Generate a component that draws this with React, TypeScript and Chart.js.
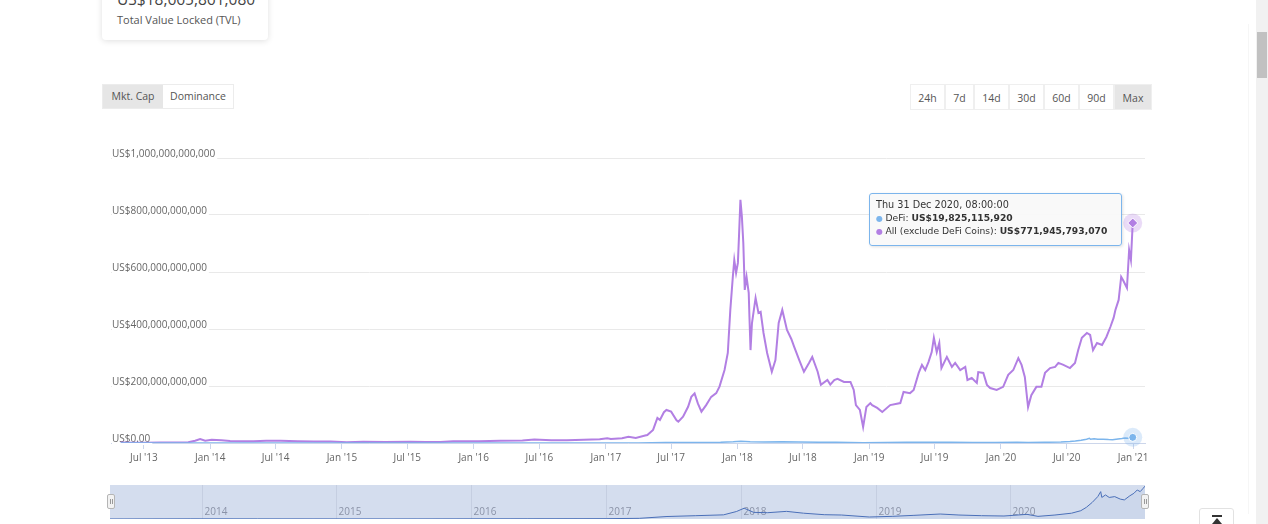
import React, { useEffect, useRef } from "react";
import { Chart, registerables } from "chart.js";

Chart.register(...registerables);

// ---------- DATA (values in billions of US$) ----------
const allDates = [
  "2013-04-28","2013-06-01","2013-07-05","2013-08-15","2013-10-01","2013-11-01","2013-11-20","2013-12-04","2013-12-18",
  "2014-01-05","2014-02-01","2014-02-25","2014-04-01","2014-05-01","2014-06-05","2014-07-15","2014-09-01","2014-10-15","2014-12-01",
  "2015-01-14","2015-03-01","2015-05-01","2015-07-10","2015-08-20","2015-10-01","2015-11-05","2015-12-15",
  "2016-01-15","2016-03-15","2016-05-15","2016-06-17","2016-08-03","2016-09-15","2016-11-01","2016-12-15",
  "2017-01-05","2017-01-15","2017-02-15","2017-03-05","2017-03-25","2017-04-20","2017-04-26","2017-05-12","2017-05-24","2017-05-31",
  "2017-06-11","2017-06-18","2017-07-01","2017-07-16","2017-07-21","2017-08-03","2017-08-17","2017-08-26","2017-09-04","2017-09-13",
  "2017-09-23","2017-10-06","2017-10-20","2017-11-03","2017-11-12","2017-11-26","2017-12-05","2017-12-12","2017-12-19","2017-12-23","2017-12-28",
  "2018-01-02","2018-01-05","2018-01-09","2018-01-13","2018-01-17","2018-01-21","2018-01-26","2018-02-01","2018-02-03","2018-02-06",
  "2018-02-10","2018-02-20","2018-02-28","2018-03-06","2018-03-14","2018-03-24","2018-04-06","2018-04-16","2018-04-25","2018-05-05",
  "2018-05-18","2018-05-30","2018-06-07","2018-06-21","2018-07-04","2018-07-18","2018-07-27","2018-08-11","2018-08-20","2018-09-07",
  "2018-09-15","2018-09-26","2018-10-05","2018-10-23","2018-11-10","2018-11-19","2018-11-25","2018-12-06","2018-12-15","2018-12-24",
  "2019-01-04","2019-01-09","2019-01-23","2019-02-06","2019-02-28","2019-03-28","2019-04-06","2019-04-24","2019-05-04","2019-05-18",
  "2019-05-27","2019-06-05","2019-06-14","2019-06-23","2019-06-29","2019-07-07","2019-07-14","2019-07-20","2019-08-04","2019-08-18",
  "2019-08-27","2019-09-10","2019-09-24","2019-09-30","2019-10-12","2019-10-26","2019-10-30","2019-11-13","2019-11-23","2019-12-02","2019-12-20",
  "2020-01-07","2020-01-21","2020-02-04","2020-02-18","2020-02-27","2020-03-07","2020-03-16","2020-03-25","2020-04-08","2020-04-22",
  "2020-05-02","2020-05-16","2020-05-30","2020-06-08","2020-06-22","2020-07-10","2020-07-24","2020-08-02","2020-08-12","2020-08-26",
  "2020-09-04","2020-09-12","2020-09-23","2020-10-07","2020-10-19","2020-10-30","2020-11-08","2020-11-13","2020-11-22","2020-11-29",
  "2020-12-04","2020-12-15","2020-12-21","2020-12-26","2020-12-31"
];
const allValues = [
  1.5,1.3,1.0,1.4,1.7,2.8,8,14,8,
  11,10,7,6,6,8,8,6.5,5,5,
  3,4,3.5,4.5,3.5,3.5,6,6.5,
  6.5,7.5,8.5,12,9.5,10,11,13,
  17,14,17,22,18,26,28,46,88,81,
  108,116,110,80,75,92,127,162,174,139,
  110,133,162,175,198,256,316,467,584,642,597,
  632,724,853,795,702,537,583,527,442,326,
  421,509,456,460,386,316,250,291,421,467,
  397,365,337,291,250,281,302,250,204,221,
  205,221,225,214,214,186,133,116,56,126,
  140,133,123,109,133,140,179,175,186,246,
  274,256,284,319,369,319,351,263,302,267,
  281,256,267,221,228,211,249,246,204,193,186,
  197,239,256,298,274,232,126,168,197,197,
  246,263,267,281,274,263,281,326,369,386,
  379,326,351,344,372,407,439,467,502,583,
  572,544,677,642,771.94579307
];

const defiDates = [
  "2013-04-28","2013-12-01","2014-06-01","2015-06-01","2016-06-01","2017-01-01","2017-04-01","2017-06-15","2017-09-01","2017-11-15",
  "2017-12-20","2018-01-10","2018-02-05","2018-03-15","2018-05-05","2018-06-20","2018-08-15","2018-10-01","2018-12-15","2019-02-15",
  "2019-04-15","2019-06-25","2019-08-15","2019-10-15","2019-12-15","2020-02-15","2020-03-16","2020-05-01","2020-06-15","2020-07-10",
  "2020-07-25","2020-08-10","2020-08-25","2020-09-02","2020-09-05","2020-09-15","2020-09-25","2020-10-10","2020-10-25","2020-11-05",
  "2020-11-20","2020-12-01","2020-12-10","2020-12-18","2020-12-26","2020-12-31"
];
const defiValues = [
  0.02,0.1,0.08,0.05,0.15,0.2,0.4,1.5,2.0,2.5,
  4.5,6.5,4.0,3.8,4.6,3.5,2.6,2.4,1.2,1.6,
  2.2,3.0,2.4,2.0,1.8,2.8,1.6,2.4,3.5,5.0,
  7.0,10.0,13.5,16.5,13.0,14.5,13.0,13.5,12.0,11.5,
  14.0,15.5,17.5,16.5,18.5,19.82511592
];

const xTickDates = [
  "2013-07-01","2014-01-01","2014-07-01","2015-01-01","2015-07-01","2016-01-01","2016-07-01","2017-01-01",
  "2017-07-01","2018-01-01","2018-07-01","2019-01-01","2019-07-01","2020-01-01","2020-07-01","2021-01-01"
];
const xTickLabels = [
  "Jul '13","Jan '14","Jul '14","Jan '15","Jul '15","Jan '16","Jul '16","Jan '17",
  "Jul '17","Jan '18","Jul '18","Jan '19","Jul '19","Jan '20","Jul '20","Jan '21"
];
const yTickValues = [0, 200, 400, 600, 800, 1000];
const yTickLabels = [
  "US$0.00","US$200,000,000,000","US$400,000,000,000","US$600,000,000,000","US$800,000,000,000","US$1,000,000,000,000"
];
const navYearDates = ["2014-01-01","2015-01-01","2016-01-01","2017-01-01","2018-01-01","2019-01-01","2020-01-01"];
const navYearLabels = ["2014","2015","2016","2017","2018","2019","2020"];

const viewButtons = ["Mkt. Cap", "Dominance"];
const rangeButtons = ["24h", "7d", "14d", "30d", "60d", "90d", "Max"];
const rangeWidths = [35, 29, 35, 35, 35, 35, 38];

const tvlText = "US$18,665,861,080";
const tooltipHeader = "Thu 31 Dec 2020, 08:00:00";
const seriesNames = ["DeFi", "All (exclude DeFi Coins)"];

// ---------- helpers ----------
const ms = (s: string) => {
  const [y, m, d] = s.split("-").map(Number);
  return Date.UTC(y, m - 1, d);
};
const fmtUSD = (b: number) => "US$" + Math.round(b * 1e9).toLocaleString("en-US");

const BLUE = "#7cb5ec";
const PURPLE = "#b27fe3";
const FONT = "'Open Sans', 'Noto Sans', sans-serif";

const haloPlugin = {
  id: "halo",
  beforeDatasetsDraw(chart: any) {
    const ctx = chart.ctx;
    const colors = ["rgba(124,181,236,0.28)", "rgba(178,127,227,0.28)"];
    chart.data.datasets.forEach((ds: any, i: number) => {
      const meta = chart.getDatasetMeta(i);
      const pt = meta.data[meta.data.length - 1];
      if (!pt) return;
      ctx.save();
      ctx.fillStyle = colors[i];
      ctx.beginPath();
      ctx.arc(pt.x, pt.y, 9.5, 0, Math.PI * 2);
      ctx.fill();
      ctx.restore();
    });
  },
};

const navPlugin = {
  id: "navDecor",
  beforeDatasetsDraw(chart: any) {
    const { ctx, chartArea } = chart;
    const xs = chart.scales.x;
    ctx.save();
    ctx.fillStyle = "rgba(102,133,194,0.28)";
    ctx.fillRect(chartArea.left, chartArea.top, chartArea.right - chartArea.left, chartArea.bottom - chartArea.top);
    ctx.strokeStyle = "rgba(60,70,110,0.10)";
    ctx.lineWidth = 1;
    ctx.fillStyle = "#8b93a8";
    ctx.font = `10px ${FONT}`;
    ctx.textBaseline = "middle";
    ctx.textAlign = "left";
    navYearDates.forEach((d, i) => {
      const x = Math.round(xs.getPixelForValue(ms(d))) + 0.5;
      ctx.beginPath();
      ctx.moveTo(x, chartArea.top);
      ctx.lineTo(x, chartArea.bottom);
      ctx.stroke();
      ctx.fillText(navYearLabels[i], x + 2, chartArea.bottom - 7);
    });
    ctx.restore();
  },
};

function MainChart() {
  const ref = useRef<HTMLCanvasElement>(null);
  useEffect(() => {
    if (!ref.current) return;
    const lastA = allValues.length - 1;
    const lastD = defiValues.length - 1;
    const chart = new Chart(ref.current, {
      type: "line",
      data: {
        datasets: [
          {
            label: seriesNames[0],
            data: defiDates.map((d, i) => ({ x: ms(d), y: defiValues[i] })),
            borderColor: BLUE,
            backgroundColor: BLUE,
            borderWidth: 1.5,
            pointRadius: (c: any) => (c.dataIndex === lastD ? 4 : 0),
            pointBackgroundColor: BLUE,
            pointBorderColor: "#ffffff",
            pointBorderWidth: 1,
            tension: 0,
          },
          {
            label: seriesNames[1],
            data: allDates.map((d, i) => ({ x: ms(d), y: allValues[i] })),
            borderColor: PURPLE,
            backgroundColor: PURPLE,
            borderWidth: 2,
            pointStyle: "rectRot",
            pointRadius: (c: any) => (c.dataIndex === lastA ? 5 : 0),
            pointBackgroundColor: PURPLE,
            pointBorderColor: "#ffffff",
            pointBorderWidth: 1,
            tension: 0,
          },
        ],
      },
      options: {
        animation: false,
        responsive: false,
        maintainAspectRatio: false,
        events: [],
        layout: { padding: { left: 9, right: 25, top: 16, bottom: 5 } },
        plugins: { legend: { display: false }, tooltip: { enabled: false } },
        scales: {
          x: {
            type: "linear",
            min: ms("2013-04-01"),
            max: ms("2021-02-03"),
            afterBuildTicks: (s: any) => {
              s.ticks = xTickDates.map((d) => ({ value: ms(d) }));
            },
            ticks: {
              callback: (_v: any, i: number) => xTickLabels[i],
              autoSkip: false,
              maxRotation: 0,
              color: "#666666",
              font: { family: FONT, size: 10 },
              padding: 3,
            },
            grid: { drawOnChartArea: false, drawTicks: true, tickLength: 6, color: "#ccd6eb" },
            border: { display: true, color: "#ccd6eb" },
          },
          y: {
            min: 0,
            max: 1000,
            afterBuildTicks: (s: any) => {
              s.ticks = yTickValues.map((v) => ({ value: v }));
            },
            ticks: {
              mirror: true,
              padding: 1,
              labelOffset: -4,
              callback: (_v: any, i: number) => yTickLabels[i],
              color: "#666666",
              font: { family: FONT, size: 10 },
              showLabelBackdrop: true,
              backdropColor: "#ffffff",
              backdropPadding: { left: 0, right: 2, top: 0, bottom: 0 },
            },
            grid: { color: "#e9e9e9", drawTicks: false },
            border: { display: false },
          },
        },
      },
      plugins: [haloPlugin],
    } as any);
    return () => chart.destroy();
  }, []);
  return (
    <canvas
      ref={ref}
      width={1070}
      height={330}
      style={{ position: "absolute", left: 100, top: 142, width: 1070, height: 330 }}
    />
  );
}

function NavChart() {
  const ref = useRef<HTMLCanvasElement>(null);
  useEffect(() => {
    if (!ref.current) return;
    const chart = new Chart(ref.current, {
      type: "line",
      data: {
        datasets: [
          {
            data: defiDates.map((d, i) => ({ x: ms(d), y: defiValues[i] })),
            borderColor: "#4a6fb8",
            backgroundColor: "rgba(51,92,173,0.05)",
            borderWidth: 1,
            fill: "origin",
            pointRadius: 0,
            tension: 0,
          },
        ],
      },
      options: {
        animation: false,
        responsive: false,
        maintainAspectRatio: false,
        events: [],
        layout: { padding: 0 },
        plugins: { legend: { display: false }, tooltip: { enabled: false } },
        scales: {
          x: { type: "linear", display: false, min: ms(allDates[0]), max: ms(allDates[allDates.length - 1]) },
          y: { display: false, min: 0, max: 20.5 },
        },
      },
      plugins: [navPlugin],
    } as any);
    return () => chart.destroy();
  }, []);
  return (
    <canvas
      ref={ref}
      width={1035}
      height={34}
      style={{ position: "absolute", left: 110, top: 485, width: 1035, height: 34 }}
    />
  );
}

function Handle({ left }: { left: number }) {
  return (
    <div
      style={{
        position: "absolute",
        left,
        top: 494,
        width: 6,
        height: 13,
        background: "#f2f2f2",
        border: "1px solid #b5b5b5",
        borderRadius: 2,
        boxSizing: "content-box",
      }}
    >
      <div style={{ position: "absolute", left: 2, top: 4, width: 1, height: 5, background: "#999" }} />
      <div style={{ position: "absolute", left: 4, top: 4, width: 1, height: 5, background: "#999" }} />
    </div>
  );
}

export default function App() {
  const lastDefi = defiValues[defiValues.length - 1];
  const lastAll = allValues[allValues.length - 1];
  let rx = 910;
  return (
    <div
      style={{
        position: "fixed",
        left: 0,
        top: 0,
        width: 1268,
        height: 524,
        overflow: "hidden",
        background: "#ffffff",
        fontFamily: FONT,
      }}
    >
      {/* TVL card */}
      <div
        style={{
          position: "absolute",
          left: 102,
          top: -14,
          width: 166,
          height: 54,
          background: "#fff",
          borderRadius: 4,
          boxShadow: "0 1px 6px rgba(0,0,0,0.13)",
        }}
      >
        <div style={{ position: "absolute", left: 15, top: 3, fontSize: 15.5, color: "#444", lineHeight: "20px", whiteSpace: "nowrap" }}>
          {tvlText}
        </div>
        <div style={{ position: "absolute", left: 15, top: 26, fontSize: 11, color: "#555", lineHeight: "16px", whiteSpace: "nowrap" }}>
          Total Value Locked (TVL)
        </div>
      </div>

      {/* view buttons */}
      <div style={{ position: "absolute", left: 102, top: 84, height: 25, display: "flex", border: "1px solid #ececec", boxSizing: "border-box" }}>
        {viewButtons.map((b, i) => (
          <div
            key={b}
            style={{
              width: i === 0 ? 60 : 70,
              height: 23,
              lineHeight: "23px",
              textAlign: "center",
              fontSize: 10.5,
              color: "#555",
              background: i === 0 ? "#e6e6e6" : "#fff",
            }}
          >
            {b}
          </div>
        ))}
      </div>

      {/* range buttons */}
      {rangeButtons.map((b, i) => {
        const left = rx;
        rx += rangeWidths[i];
        return (
          <div
            key={b}
            style={{
              position: "absolute",
              left,
              top: 84,
              width: rangeWidths[i],
              height: 26,
              lineHeight: "26px",
              textAlign: "center",
              fontSize: 10.5,
              color: "#555",
              background: b === "Max" ? "#e6e6e6" : "#fff",
              border: "1px solid #efefef",
              boxSizing: "border-box",
            }}
          >
            {b}
          </div>
        );
      })}

      <MainChart />
      <NavChart />
      <Handle left={107} />
      <Handle left={1141} />

      {/* tooltip */}
      <div
        style={{
          position: "absolute",
          left: 869,
          top: 193,
          width: 253,
          height: 53,
          boxSizing: "border-box",
          background: "rgba(248,248,248,0.92)",
          border: `1px solid ${BLUE}`,
          borderRadius: 3,
          boxShadow: "1px 1px 3px rgba(0,0,0,0.12)",
          fontFamily: "'DejaVu Sans', Verdana, sans-serif",
          color: "#333",
          padding: "5px 0 0 6px",
          whiteSpace: "nowrap",
        }}
      >
        <div style={{ fontSize: 9.7, lineHeight: "12.5px" }}>{tooltipHeader}</div>
        <div style={{ fontSize: 9.2, lineHeight: "12.5px" }}>
          <span style={{ color: BLUE, fontSize: 8 }}>● </span>
          {seriesNames[0]}: <b>{fmtUSD(lastDefi)}</b>
        </div>
        <div style={{ fontSize: 9.2, lineHeight: "12.5px" }}>
          <span style={{ color: PURPLE, fontSize: 8 }}>● </span>
          {seriesNames[1]}: <b>{fmtUSD(lastAll)}</b>
        </div>
      </div>

      {/* faint page edge */}
      <div style={{ position: "absolute", left: 1248, top: 24, width: 1, height: 490, background: "#f6f6f6" }} />

      {/* back to top button */}
      <div
        style={{
          position: "absolute",
          left: 1199,
          top: 508,
          width: 35,
          height: 22,
          background: "#fff",
          border: "1px solid #e2e2e2",
          borderRadius: 3,
          boxSizing: "border-box",
        }}
      >
        <div style={{ position: "absolute", left: 12, top: 6, width: 10, height: 2, background: "#333" }} />
        <div
          style={{
            position: "absolute",
            left: 12,
            top: 9,
            width: 0,
            height: 0,
            borderLeft: "5px solid transparent",
            borderRight: "5px solid transparent",
            borderBottom: "6px solid #333",
          }}
        />
      </div>

      {/* scrollbar */}
      <div style={{ position: "absolute", left: 1256, top: 0, width: 12, height: 524, background: "#f1f1f1" }}>
        <div style={{ position: "absolute", left: 1, top: 32, width: 10, height: 46, background: "#c1c1c1" }} />
      </div>
    </div>
  );
}
